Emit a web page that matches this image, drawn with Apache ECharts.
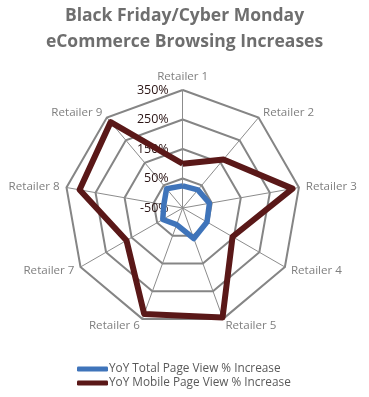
<!DOCTYPE html>
<html>
<head>
<meta charset="utf-8">
<script src="https://cdn.jsdelivr.net/npm/echarts@6/dist/echarts.min.js"></script>
<style>
  html, body { margin: 0; padding: 0; background: #ffffff; }
  #chart { width: 369px; height: 397px; }
</style>
</head>
<body>
<div id="chart"></div>
<script>
const titleLines = ['Black Friday/Cyber Monday', 'eCommerce Browsing Increases'];
const categories = ['Retailer 1', 'Retailer 2', 'Retailer 3', 'Retailer 4', 'Retailer 5', 'Retailer 6', 'Retailer 7', 'Retailer 8', 'Retailer 9'];
const seriesNames = ['YoY Total Page View % Increase', 'YoY Mobile Page View % Increase'];
const totalValues = [25, 30, 42, 45, 60, 10, 28, 15, 35];
const mobileValues = [100, 165, 328, 145, 345, 332, 170, 305, 330];
const axisMin = -50;
const axisMax = 350;
const tickLabels = ['-50%', '50%', '150%', '250%', '350%'];

// ECharts radar runs counter-clockwise; reorder so categories go clockwise from top.
const order = categories.map((_, i) => (i === 0 ? 0 : categories.length - i));
const reorder = arr => order.map(i => arr[i]);

const chart = echarts.init(document.getElementById('chart'), null, { renderer: 'canvas' });

const indicator = order.map((ci, i) => {
  const ind = { name: categories[ci], min: axisMin, max: axisMax };
  if (i === 0) {
    ind.axisLabel = {
      show: true,
      formatter: function (v) {
        const idx = Math.round((v - axisMin) / 100);
        return tickLabels[idx] !== undefined ? tickLabels[idx] : '';
      }
    };
  }
  return ind;
});

chart.setOption({
  backgroundColor: '#ffffff',
  animation: false,
  title: {
    text: titleLines.join('\n'),
    left: 'center',
    top: -2,
    textStyle: {
      fontFamily: 'Open Sans',
      fontWeight: 'bold',
      fontSize: 17.5,
      lineHeight: 26,
      color: '#6e6e6e'
    }
  },
  legend: {
    orient: 'vertical',
    left: 72,
    top: 358,
    itemWidth: 31,
    itemHeight: 5,
    itemGap: 2,
    icon: 'roundRect',
    textStyle: {
      fontFamily: 'Open Sans',
      fontSize: 11.8,
      color: '#595959',
      padding: [0, 0, 0, -4]
    },
    data: seriesNames
  },
  radar: {
    center: [182.7, 208],
    radius: 118,
    startAngle: 90,
    shape: 'polygon',
    splitNumber: 4,
    nameGap: 7,
    axisName: {
      color: '#7f7f7f',
      fontFamily: 'Open Sans',
      fontSize: 11.6
    },
    axisLine: { show: true, lineStyle: { color: '#8c8c8c', width: 1 } },
    splitLine: { show: true, lineStyle: { color: '#858585', width: 2 } },
    splitArea: { show: false },
    axisTick: { show: false },
    axisLabel: {
      show: false,
      color: '#2a1414',
      fontFamily: 'Open Sans',
      fontSize: 12.5,
      margin: 14
    },
    indicator: indicator
  },
  series: [{
    type: 'radar',
    symbol: 'none',
    data: [
      {
        name: seriesNames[0],
        value: reorder(totalValues),
        lineStyle: { color: '#3f74ba', width: 5.5 },
        itemStyle: { color: '#3f74ba' }
      },
      {
        name: seriesNames[1],
        value: reorder(mobileValues),
        lineStyle: { color: '#5a1818', width: 6 },
        itemStyle: { color: '#5a1818' }
      }
    ]
  }]
});
</script>
</body>
</html>
